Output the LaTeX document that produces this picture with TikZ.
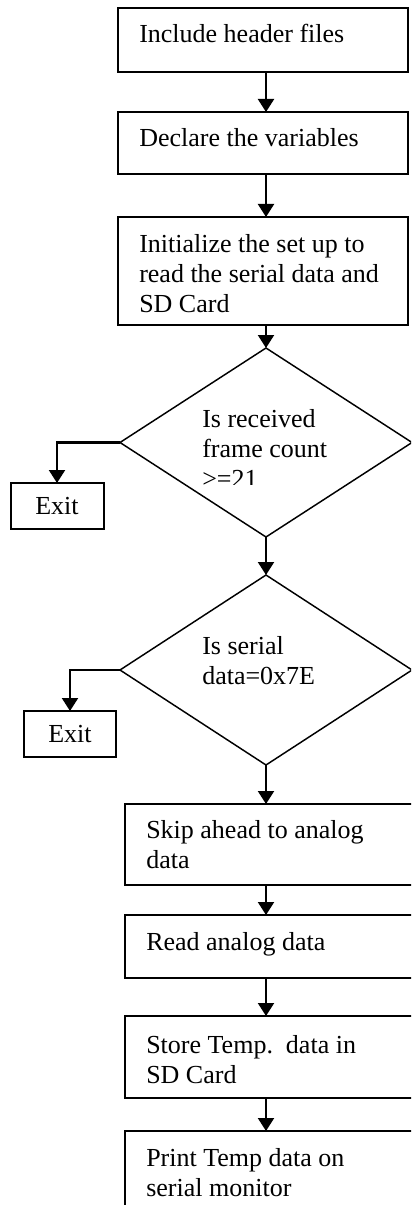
\documentclass[tikz,border=0pt]{standalone}
\usepackage{fontspec}
\setmainfont{Liberation Serif}
\usetikzlibrary{calc,positioning,shapes.geometric,arrows.meta}
\newcommand{\pxu}{0.75pt}

\begin{document}
\begin{tikzpicture}[x=0.75pt, y=-0.75pt,
        box/.style={draw, line width=1.5pt, rectangle, inner sep=0pt, outer sep=0pt},
        decision/.style={draw, line width=1.1pt, diamond, inner sep=0pt, outer sep=0pt, minimum width=292*\pxu},
        txt/.style={inner sep=0pt, anchor=base west, align=left, font=\fontsize{19.5}{22.5}\selectfont},
        arr/.style={line width=1.6pt, -{Triangle[width=12pt,length=9.75pt]}}]
        \useasboundingbox (0,0) rectangle (411,1205);
        \clip (0,0) rectangle (411,1205);

        \coordinate (axis) at (266,0);

        \node[box, minimum width=290*\pxu, minimum height=64*\pxu] (b1) at (263,40) {};
        \node[box, minimum width=290*\pxu, minimum height=62*\pxu] (b2) at (263,143) {};
        \node[box, minimum width=290*\pxu, minimum height=108*\pxu] (b3) at (263,271) {};
        \node[decision, minimum height=189*\pxu] (d1) at (266,442.5) {};
        \node[box, txt, anchor=center, minimum width=93*\pxu, minimum height=46*\pxu] (e1) at (57,506) {Exit};
        \node[decision, minimum height=190*\pxu] (d2) at (266,670) {};
        \node[box, txt, anchor=center, minimum width=92*\pxu, minimum height=46*\pxu] (e2) at (70,734) {Exit};
        \node[box, minimum width=295*\pxu, minimum height=81*\pxu] (b4) at (272.5,844.5) {};
        \node[box, minimum width=295*\pxu, minimum height=63*\pxu] (b5) at (272.5,946.5) {};
        \node[box, minimum width=295*\pxu, minimum height=82*\pxu] (b6) at (272.5,1057) {};
        \node[box, minimum width=295*\pxu, minimum height=84*\pxu] (b7) at (272.5,1173) {};

        % base west = baseline of the last line
        \node[txt] (t1) at (139,43) {Include header files};
        \node[txt] (t2) at (139,147) {Declare the variables};
        \node[txt] (t3) at (139,313) {Initialize the set up to\\read the serial data and\\SD Card};
        \begin{scope}
            \clip (150,400) rectangle (400,484);
            \node[txt] (t4) at (202,487) {Is received\\frame count\\>=21};
        \end{scope}
        \node[txt] (t5) at (202,684) {Is serial\\data=0x7E};
        \node[txt] (t6) at (146,868) {Skip ahead to analog\\data};
        \node[txt] (t7) at (146,950) {Read analog data};
        \node[txt] (t8) at (146,1083) {Store Temp.\ \ data in\\SD Card};
        \node[txt] (t9) at (146,1196) {Print Temp data on\\serial monitor};

        \draw[arr] (b1.south -| axis) -- (b2.north -| axis);
        \draw[arr] (b2.south -| axis) -- (b3.north -| axis);
        \draw[arr] (b3.south -| axis) -- (d1.north);
        \draw[arr] (d1.west) -| (e1.north);
        \draw[arr] (d1.south) -- (d2.north);
        \draw[arr] (d2.west) -| (e2.north);
        \draw[arr] (d2.south) -- (b4.north -| axis);
        \draw[arr] (b4.south -| axis) -- (b5.north -| axis);
        \draw[arr] (b5.south -| axis) -- (b6.north -| axis);
        \draw[arr] (b6.south -| axis) -- (b7.north -| axis);
    \end{tikzpicture}
\end{document}
